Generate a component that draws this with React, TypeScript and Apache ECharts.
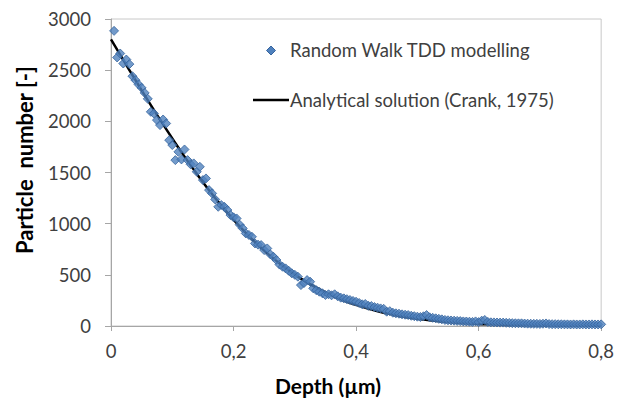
import React, { useEffect, useRef } from "react";
import * as echarts from "echarts";

const xTickValues = [0, 0.2, 0.4, 0.6, 0.8];
const yTickValues = [0, 500, 1000, 1500, 2000, 2500, 3000];

const seriesNames = ["Random Walk TDD modelling", "Analytical solution (Crank, 1975)"];

// Random walk simulation: [depth (µm), particle number]
const randomWalkPoints: [number, number][] = [
  [0.005, 2884], [0.01, 2624], [0.015, 2663], [0.02, 2565], [0.025, 2604],
  [0.03, 2559], [0.035, 2441], [0.04, 2402], [0.045, 2360], [0.05, 2327],
  [0.055, 2278], [0.06, 2220], [0.065, 2093], [0.07, 2077], [0.075, 2012],
  [0.08, 1963], [0.085, 2018], [0.09, 1979], [0.095, 1816], [0.1, 1768],
  [0.105, 1621], [0.11, 1702], [0.115, 1628], [0.12, 1725], [0.125, 1621],
  [0.13, 1580], [0.135, 1589], [0.14, 1507], [0.145, 1556], [0.15, 1426],
  [0.155, 1442], [0.16, 1328], [0.165, 1296], [0.17, 1237], [0.175, 1165],
  [0.18, 1182], [0.185, 1165], [0.19, 1133], [0.195, 1084], [0.2, 1062],
  [0.205, 1051], [0.21, 990], [0.215, 954], [0.22, 905], [0.225, 890],
  [0.23, 872], [0.235, 807], [0.24, 795], [0.245, 791], [0.25, 742],
  [0.255, 758], [0.26, 700], [0.265, 677], [0.27, 645], [0.275, 600],
  [0.28, 579], [0.285, 563], [0.29, 540], [0.295, 515], [0.3, 500],
  [0.305, 482], [0.31, 400], [0.315, 420], [0.32, 449], [0.325, 433],
  [0.33, 368], [0.335, 350], [0.34, 335], [0.345, 320], [0.35, 303],
  [0.355, 310], [0.36, 300], [0.365, 310], [0.37, 290], [0.375, 277],
  [0.38, 270], [0.385, 262], [0.39, 254], [0.395, 245], [0.4, 237],
  [0.405, 225], [0.41, 212], [0.415, 215], [0.42, 198], [0.425, 195],
  [0.43, 185], [0.435, 179], [0.44, 172], [0.445, 168], [0.45, 140],
  [0.455, 145], [0.46, 130], [0.465, 124], [0.47, 120], [0.475, 114],
  [0.48, 110], [0.485, 107], [0.49, 100], [0.495, 96], [0.5, 91],
  [0.505, 88], [0.51, 95], [0.515, 107], [0.52, 85], [0.525, 80],
  [0.53, 75], [0.535, 70], [0.54, 65], [0.545, 59], [0.55, 56],
  [0.555, 54], [0.56, 52], [0.565, 50], [0.57, 48], [0.575, 45],
  [0.58, 44], [0.585, 42], [0.59, 40], [0.595, 45], [0.6, 38],
  [0.605, 52], [0.61, 59], [0.615, 40], [0.62, 36], [0.625, 35],
  [0.63, 34], [0.635, 33], [0.64, 33], [0.645, 31], [0.65, 30],
  [0.655, 28], [0.66, 27], [0.665, 26], [0.67, 26], [0.675, 24],
  [0.68, 23], [0.685, 22], [0.69, 21], [0.695, 21], [0.7, 20],
  [0.705, 22], [0.71, 25], [0.715, 19], [0.72, 18], [0.725, 18],
  [0.73, 17], [0.735, 17], [0.74, 16], [0.745, 16], [0.75, 15],
  [0.755, 16], [0.76, 15], [0.765, 15], [0.77, 16], [0.775, 15],
  [0.78, 15], [0.785, 16], [0.79, 15], [0.795, 15], [0.8, 16],
];

// Analytical solution curve
const analyticalDepth = [
  0, 0.02, 0.04, 0.06, 0.08, 0.1, 0.12, 0.14, 0.16, 0.18, 0.2,
  0.22, 0.24, 0.26, 0.28, 0.3, 0.32, 0.34, 0.36, 0.38, 0.4,
  0.42, 0.44, 0.46, 0.48, 0.5, 0.52, 0.54, 0.56, 0.58, 0.6,
  0.62, 0.64, 0.66, 0.68, 0.7, 0.72, 0.74, 0.76, 0.78, 0.8,
];
const analyticalCount = [
  2800, 2600, 2402, 2207, 2017, 1833, 1655, 1487, 1327, 1178, 1039,
  910, 792, 685, 589, 502, 426, 359, 300, 249, 206,
  169, 137, 111, 89, 71, 56, 44, 34, 27, 20,
  16, 12, 9, 7, 5, 4, 3, 2, 1, 1,
];

const FONT = "Lato, 'Noto Sans', sans-serif";
const MARKER_FILL = "#4f81bd";
const MARKER_BORDER = "#36649e";
const LABEL_COLOR = "#404040";

export default function App() {
  const ref = useRef<HTMLDivElement>(null);

  useEffect(() => {
    if (!ref.current) return;
    const chart = echarts.init(ref.current, undefined, { renderer: "svg" });
    const lineData = analyticalDepth.map((d, i) => [d, analyticalCount[i]]);
    chart.setOption({
      animation: false,
      backgroundColor: "#ffffff",
      textStyle: { fontFamily: FONT },
      grid: {
        left: 111,
        right: 15,
        top: 19,
        bottom: 78,
        show: true,
        borderColor: "#c8c8c8",
        borderWidth: 1,
      },
      legend: { show: false },
      xAxis: {
        type: "value",
        min: 0,
        max: 0.8,
        interval: 0.2,
        axisLine: { show: true, lineStyle: { color: "#a6a6a6", width: 1 } },
        axisTick: { show: true, length: 5, lineStyle: { color: "#a6a6a6" } },
        splitLine: { show: false },
        axisLabel: {
          margin: 15,
          fontFamily: FONT,
          fontSize: 18.5,
          color: LABEL_COLOR,
          formatter: (v: number) => {
            const found = xTickValues.find((t) => Math.abs(t - v) < 1e-9);
            const val = found !== undefined ? found : v;
            return val === 0 ? "0" : val.toFixed(1).replace(".", ",");
          },
        },
      },
      yAxis: {
        type: "value",
        min: yTickValues[0],
        max: yTickValues[yTickValues.length - 1],
        interval: 500,
        axisLine: { show: true, lineStyle: { color: "#a6a6a6", width: 1 } },
        axisTick: { show: true, length: 6, lineStyle: { color: "#a6a6a6" } },
        splitLine: { show: false },
        axisLabel: {
          margin: 20,
          fontFamily: FONT,
          fontSize: 18.5,
          color: LABEL_COLOR,
          formatter: (v: number) => String(Math.round(v)),
        },
      },
      graphic: [
        {
          type: "text",
          x: 328,
          y: 385,
          style: {
            text: "Depth (µm)",
            fontFamily: FONT,
            fontSize: 21,
            fontWeight: "bold",
            fill: "#000000",
            align: "center",
            verticalAlign: "middle",
          },
        },
        {
          type: "text",
          x: 24,
          y: 160,
          rotation: Math.PI / 2,
          style: {
            text: "Particle  number [-]",
            fontFamily: FONT,
            fontSize: 22,
            fontWeight: "bold",
            fill: "#000000",
            align: "center",
            verticalAlign: "middle",
          },
        },
        // legend
        {
          type: "polygon",
          shape: { points: [[271, 46], [275.5, 50.5], [271, 55], [266.5, 50.5]] },
          style: { fill: MARKER_FILL, stroke: MARKER_BORDER, lineWidth: 1 },
        },
        {
          type: "text",
          x: 290,
          y: 50,
          style: {
            text: seriesNames[0],
            fontFamily: FONT,
            fontSize: 18.5,
            fill: LABEL_COLOR,
            align: "left",
            verticalAlign: "middle",
          },
        },
        {
          type: "line",
          shape: { x1: 253, y1: 100, x2: 289, y2: 100 },
          style: { stroke: "#000000", lineWidth: 2.5 },
        },
        {
          type: "text",
          x: 290,
          y: 100,
          style: {
            text: seriesNames[1],
            fontFamily: FONT,
            fontSize: 18.5,
            fill: LABEL_COLOR,
            align: "left",
            verticalAlign: "middle",
          },
        },
      ],
      series: [
        {
          name: seriesNames[1],
          type: "line",
          data: lineData,
          smooth: true,
          symbol: "none",
          lineStyle: { color: "#000000", width: 2.5 },
          itemStyle: { color: "#000000" },
          z: 1,
        },
        {
          name: seriesNames[0],
          type: "scatter",
          data: randomWalkPoints,
          symbol: "diamond",
          symbolSize: 9,
          itemStyle: {
            color: MARKER_FILL,
            borderColor: MARKER_BORDER,
            borderWidth: 1,
          },
          z: 2,
        },
      ],
    });
    return () => chart.dispose();
  }, []);

  return (
    <div
      ref={ref}
      style={{ position: "fixed", left: 0, top: 0, width: 617, height: 404 }}
    />
  );
}
